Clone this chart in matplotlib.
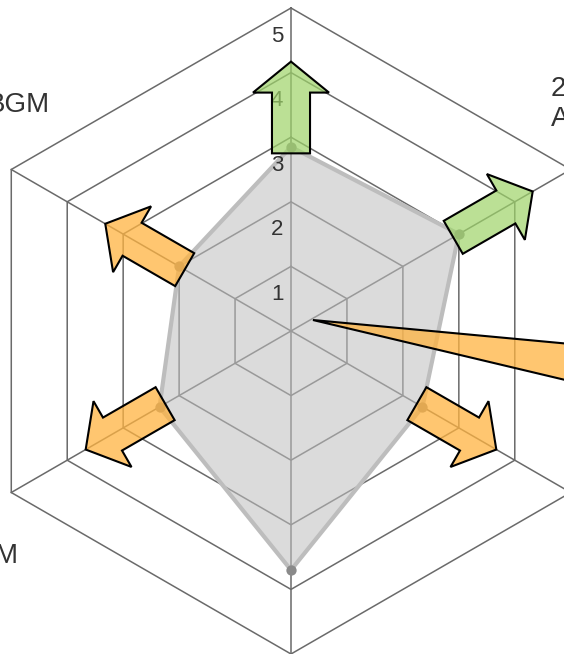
import numpy as np
import matplotlib
matplotlib.use("Agg")
import matplotlib.pyplot as plt
from matplotlib.patches import FancyArrowPatch, ArrowStyle
from matplotlib.transforms import offset_copy

plt.rcParams['font.family'] = ['Liberation Sans', 'DejaVu Sans']

# ---- data ----
categories = ['', '2\nA', '', '', 'M', 'BGM']      # top, then clockwise
values = [2.85, 3.0, 2.35, 3.7, 2.35, 2.0]
arrow_dir = ['up', 'up', 'down', None, 'down', 'down']
ticks = [1, 2, 3, 4, 5]
tick_labels = ['1', '2', '3', '4', '5']

# wedge pointer (theta in degrees, r in data units)
wedge_theta = [63.4, 93.5, 101.2]
wedge_r = [0.38, 6.34, 6.45]

# ---- style ----
W, H = 564, 654
cx, cy = 291, 331           # centre in pixels (from top)
unit = 64.6                 # pixels per data unit
rmax = 7.0
green_fc = (0.62, 0.83, 0.41, 0.70)
orange_fc = (1.0, 0.70, 0.25, 0.75)

fig = plt.figure(figsize=(W / 100, H / 100), dpi=100)
size = 2 * rmax * unit
ax = fig.add_axes([(cx - size / 2) / W, (H - cy - size / 2) / H, size / W, size / H],
                  projection='polar')
ax.set_theta_zero_location('N')
ax.set_theta_direction(-1)
ax.set_ylim(0, rmax)
ax.set_axis_off()

n = len(values)
theta = np.deg2rad(np.arange(n) * 360.0 / n)
theta_c = np.append(theta, theta[0])

# grid rings
for k in ticks:
    ax.plot(theta_c, [k] * (n + 1), color='#6a6a6a', lw=1.1, zorder=1)
for t in theta:
    ax.plot([t, t], [0, ticks[-1]], color='#6a6a6a', lw=1.1, zorder=1)

# data polygon
vals_c = np.append(values, values[0])
ax.fill(theta_c, vals_c, facecolor=(0.75, 0.75, 0.75, 0.56), edgecolor='none', zorder=2)
ax.plot(theta_c, vals_c, color='#bdbdbd', lw=3.0, zorder=3, solid_joinstyle='round')
ax.scatter(theta, values, s=55, color='#8a8a8a', zorder=4, linewidths=0)

# radial tick labels
tt = offset_copy(ax.transData, fig=fig, x=-14, y=-28, units='dots')
for k, lab in zip(ticks, tick_labels):
    ax.text(0, k, lab, transform=tt, ha='center', va='center', fontsize=16,
            color='#333333', zorder=5)

# arrows
style = ArrowStyle.Simple(head_length=22.3, head_width=54.7, tail_width=27.4)
for t, v, d in zip(theta, values, arrow_dir):
    if d is None:
        continue
    fc = green_fc if d == 'up' else orange_fc
    arr = FancyArrowPatch(posA=(t, v - 0.1), posB=(t, v + 1.32), arrowstyle=style,
                          mutation_scale=1, transform=ax.transData,
                          shrinkA=0, shrinkB=0, facecolor=fc, edgecolor='black',
                          lw=1.5, zorder=6, joinstyle='miter')
    ax.add_patch(arr)

# wedge pointer
ax.fill(np.deg2rad(wedge_theta), wedge_r, facecolor=orange_fc, edgecolor='black',
        lw=1.5, zorder=7, joinstyle='miter')

# category labels (only partly inside the canvas)
label_pos = {1: (551, 104, 'left'), 4: (18, 556, 'right'), 5: (50, 105, 'right')}
for i, (px, py, ha) in label_pos.items():
    fig.text(px / W, 1 - py / H, categories[i], ha=ha, va='center', fontsize=20,
             color='#333333', linespacing=1.15)

fig.savefig('out.png', dpi=100)
